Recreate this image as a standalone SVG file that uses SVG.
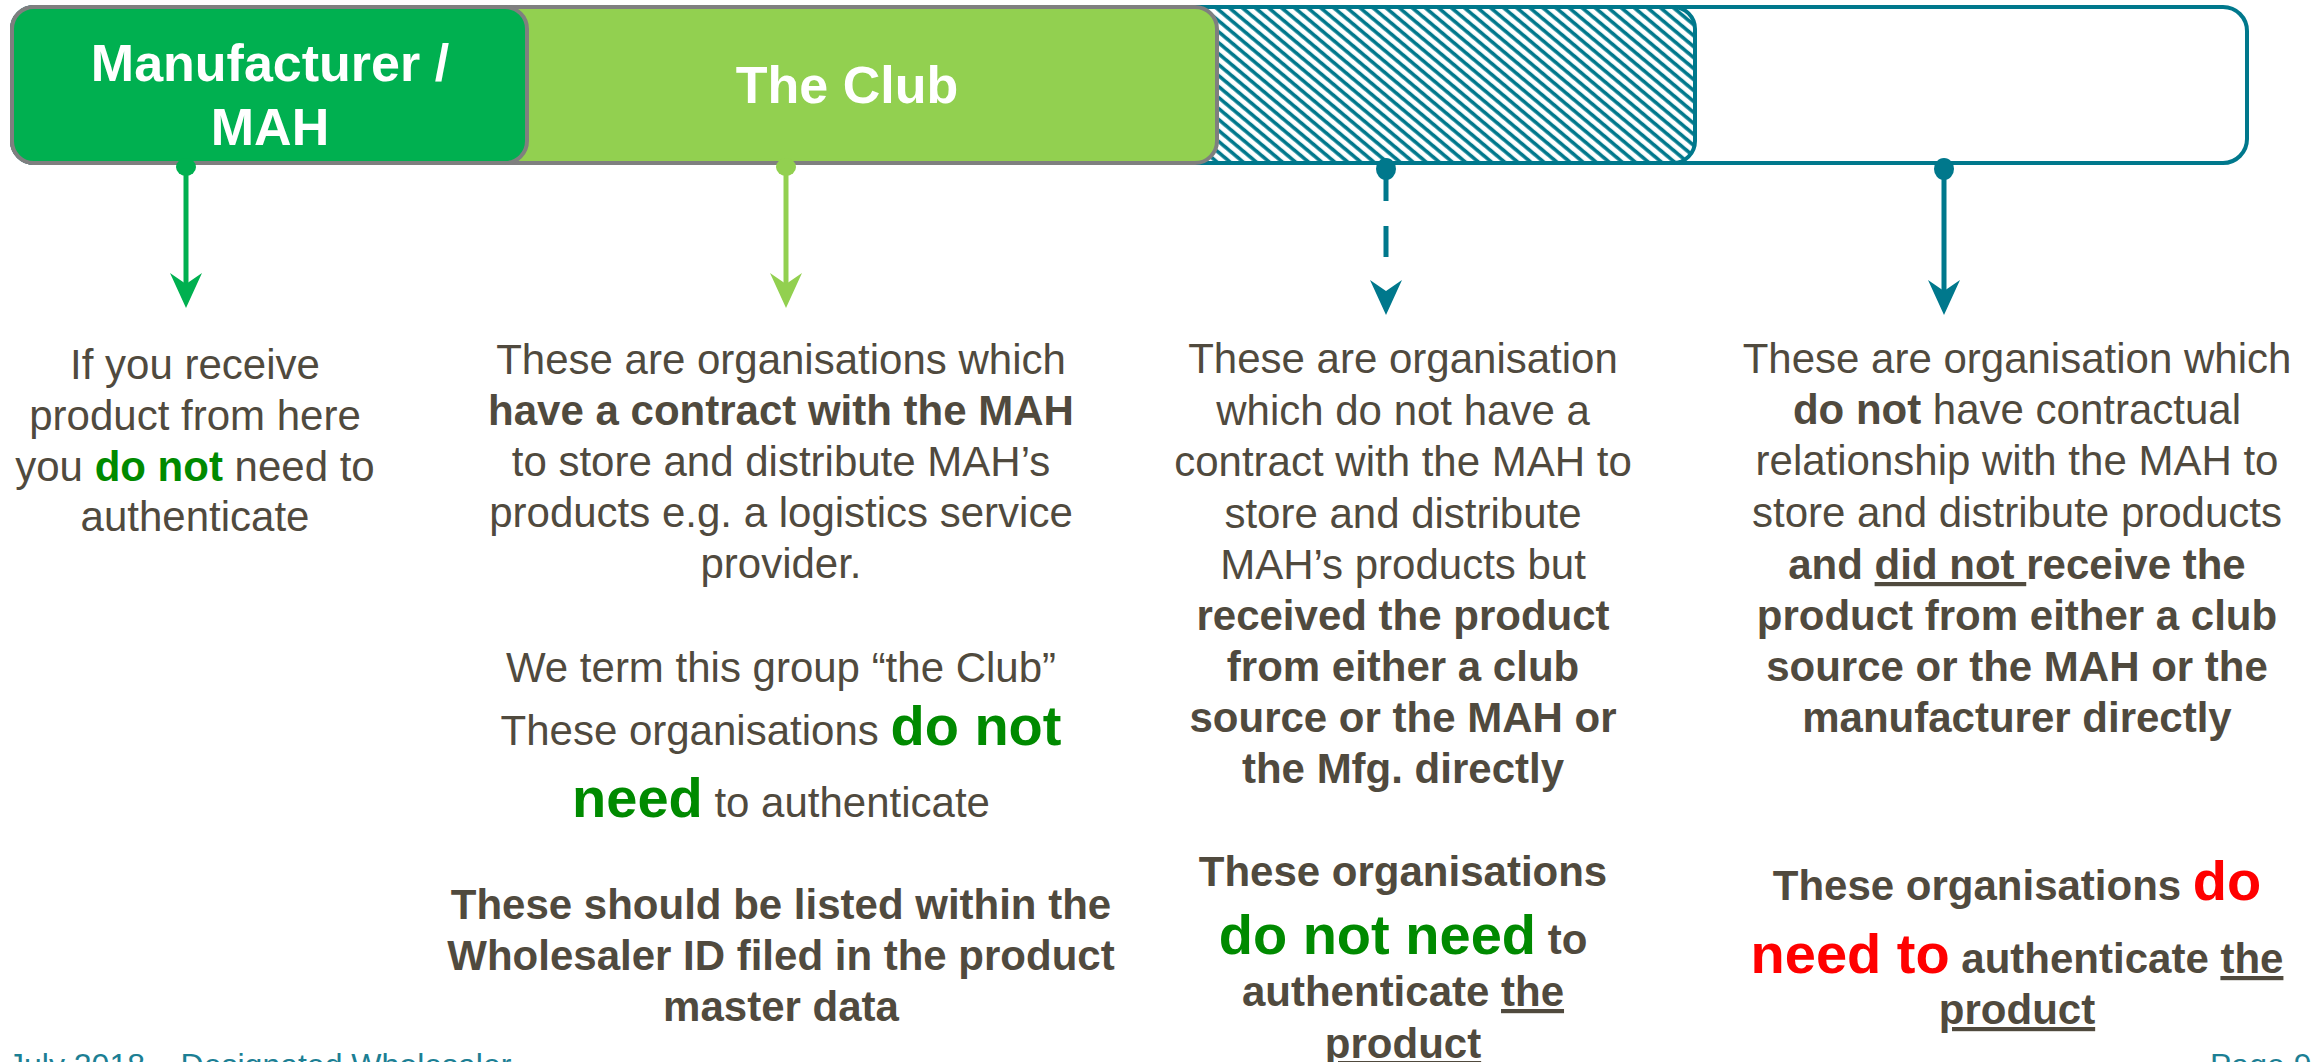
<svg xmlns="http://www.w3.org/2000/svg" width="2321" height="1062" viewBox="0 0 2321 1062">
<style>
.t{font-family:"Liberation Sans",Arial,sans-serif;font-size:42px;fill:#504A3E;text-anchor:middle}
.b{font-weight:bold}
.g{fill:#008A00;font-weight:bold}
.big{font-size:56px}
.r{fill:#FF0000;font-weight:bold;font-size:56px}
.u{text-decoration:underline}
.h{font-family:"Liberation Sans",Arial,sans-serif;fill:#fff;font-weight:bold;font-size:52px;text-anchor:middle}
.f{font-family:"Liberation Sans",Arial,sans-serif;fill:#1C7F94;font-size:32px}
.grey{stroke:#7F7F7F;stroke-width:4}
.teal{stroke:#00788C;stroke-width:4}
.ln{fill:none;stroke-width:5}
</style>
<defs>
<pattern id="hatch" patternUnits="userSpaceOnUse" width="8.4" height="8.4" patternTransform="rotate(-50)">
<rect width="8.4" height="8.4" fill="#fff"/>
<line x1="3" y1="-1" x2="3" y2="9.4" stroke="#00788C" stroke-width="3.6"/>
</pattern>
<marker id="aDG" markerUnits="userSpaceOnUse" viewBox="-25 -20 40 40" markerWidth="40" markerHeight="40" refX="0" refY="0" orient="auto"><path d="M12,0 L-23,-16 L-12,0 L-23,16 Z" fill="#00B050"/></marker>
<marker id="aLG" markerUnits="userSpaceOnUse" viewBox="-25 -20 40 40" markerWidth="40" markerHeight="40" refX="0" refY="0" orient="auto"><path d="M12,0 L-23,-16 L-12,0 L-23,16 Z" fill="#92D050"/></marker>
<marker id="aT" markerUnits="userSpaceOnUse" viewBox="-25 -20 40 40" markerWidth="40" markerHeight="40" refX="0" refY="0" orient="auto"><path d="M12,0 L-23,-16 L-12,0 L-23,16 Z" fill="#00788C"/></marker>
</defs>
<rect width="2321" height="1062" fill="#fff"/>
<g id="node-other">
<rect x="12" y="7" width="2235" height="156" rx="24" fill="#fff" class="teal"/>
</g>
<g id="node-nonclub">
<rect x="12" y="7" width="1683" height="156" rx="22" fill="url(#hatch)" class="teal"/>
</g>
<g id="node-club">
<rect x="12" y="7" width="1205" height="156" rx="22" fill="#92D050" class="grey"/>
<text class="h" x="847" y="103">The Club</text>
</g>
<g id="node-mah">
<rect x="12" y="7" width="515" height="156" rx="22" fill="#00B050" class="grey"/>
<text class="h" x="270" y="81">Manufacturer /</text>
<text class="h" x="270" y="145">MAH</text>
</g>
<g id="connectors">
<ellipse cx="186" cy="167" rx="10" ry="9" fill="#00B050"/>
<line x1="186" y1="168" x2="186" y2="296" class="ln" stroke="#00B050" marker-end="url(#aDG)"/>
<ellipse cx="786" cy="167" rx="10" ry="9" fill="#92D050"/>
<line x1="786" y1="168" x2="786" y2="296" class="ln" stroke="#92D050" marker-end="url(#aLG)"/>
<ellipse cx="1386" cy="169" rx="10" ry="11" fill="#00788C"/>
<line x1="1386" y1="170" x2="1386" y2="303" class="ln" stroke="#00788C" stroke-dasharray="31 25 31 34 50" marker-end="url(#aT)"/>
<ellipse cx="1944" cy="169" rx="10" ry="11" fill="#00788C"/>
<line x1="1944" y1="170" x2="1944" y2="303" class="ln" stroke="#00788C" marker-end="url(#aT)"/>
</g>
<g id="text-mah">
<text class="t" x="195" y="379">If you receive</text>
<text class="t" x="195" y="430">product from here</text>
<text class="t" x="195" y="481">you <tspan class="g">do not</tspan> need to</text>
<text class="t" x="195" y="531">authenticate</text>
</g>
<g id="text-club">
<text class="t" x="781" y="374">These are organisations which</text>
<text class="t b" x="781" y="425">have a contract with the MAH</text>
<text class="t" x="781" y="476">to store and distribute MAH’s</text>
<text class="t" x="781" y="527">products e.g. a logistics service</text>
<text class="t" x="781" y="578">provider.</text>
<text class="t" x="781" y="682">We term this group “the Club”</text>
<text class="t" x="781" y="745">These organisations <tspan class="g big">do not</tspan></text>
<text class="t" x="781" y="817"><tspan class="g big">need</tspan> to authenticate</text>
<text class="t b" x="781" y="919">These should be listed within the</text>
<text class="t b" x="781" y="970">Wholesaler ID filed in the product</text>
<text class="t b" x="781" y="1021">master data</text>
</g>
<g id="text-nonclub">
<text class="t" x="1403" y="373">These are organisation</text>
<text class="t" x="1403" y="425">which do not have a</text>
<text class="t" x="1403" y="476">contract with the MAH to</text>
<text class="t" x="1403" y="528">store and distribute</text>
<text class="t" x="1403" y="579">MAH’s products but</text>
<text class="t b" x="1403" y="630">received the product</text>
<text class="t b" x="1403" y="681">from either a club</text>
<text class="t b" x="1403" y="732">source or the MAH or</text>
<text class="t b" x="1403" y="783">the Mfg. directly</text>
<text class="t b" x="1403" y="886">These organisations</text>
<text class="t b" x="1403" y="954"><tspan class="g big">do not need</tspan> to</text>
<text class="t b" x="1403" y="1006">authenticate <tspan class="u">the</tspan></text>
<text class="t b u" x="1403" y="1058">product</text>
</g>
<g id="text-other">
<text class="t" x="2017" y="373">These are organisation which</text>
<text class="t" x="2017" y="424"><tspan class="b">do not</tspan> have contractual</text>
<text class="t" x="2017" y="475">relationship with the MAH to</text>
<text class="t" x="2017" y="527">store and distribute products</text>
<text class="t b" x="2017" y="579">and <tspan class="u">did not </tspan>receive the</text>
<text class="t b" x="2017" y="630">product from either a club</text>
<text class="t b" x="2017" y="681">source or the MAH or the</text>
<text class="t b" x="2017" y="732">manufacturer directly</text>
<text class="t b" x="2017" y="900">These organisations <tspan class="r">do</tspan></text>
<text class="t b" x="2017" y="973"><tspan class="r">need to</tspan> authenticate <tspan class="u">the</tspan></text>
<text class="t b u" x="2017" y="1024">product</text>
</g>
<g id="footer">
<text class="f" x="8" y="1076">July 2018 – Designated Wholesaler</text>
<text class="f" x="2210" y="1076">Page 9</text>
</g>
</svg>
